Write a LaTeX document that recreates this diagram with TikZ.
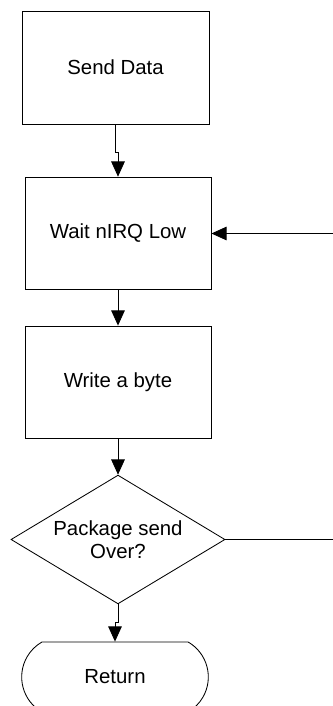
\documentclass[tikz,border=0pt]{standalone}
\usepackage{fontspec}
\setmainfont{Liberation Sans}
\usepackage{tikz}
\usetikzlibrary{shapes.geometric,shapes.misc,arrows.meta}

\begin{document}
\begin{tikzpicture}[
  >={Triangle[width=0.34cm,length=0.38cm]},
  line width=0.6pt,
  proc/.style={draw, rectangle, minimum width=4.65cm, minimum height=2.82cm, font=\fontsize{14.5}{16.5}\selectfont},
  decide/.style={draw, diamond, aspect=1.66, inner sep=0pt, minimum width=5.35cm, minimum height=3.22cm, align=center, font=\fontsize{14.5}{16.5}\selectfont},
  term/.style={draw, rounded rectangle, rounded rectangle arc length=120, minimum width=4.9cm, minimum height=1.75cm, font=\fontsize{14.5}{16.5}\selectfont}
]

\useasboundingbox (0,0) rectangle (8.3,-17.65);

\node[proc, minimum width=4.675cm, minimum height=2.825cm] (send) at (2.8875,-1.6875) {Send Data};

\node[proc] (wait) at (2.95,-5.8375) {Wait nIRQ Low};

\node[proc, minimum height=2.8cm] (byte) at (2.95,-9.55) {Write a byte};

\node[decide] (over) at (2.95,-13.4875) {Package send\\Over?};

\node[term] (ret) at (2.875,-16.925) {Return};

\coordinate (loop) at (8.6,-13.4875);


\draw[->] (send.south) -- ++(0,-0.7) -| (wait.north);
\draw[->] (wait) -- (byte);
\draw[->] (byte) -- (over);
\draw[->] (over.south) -- ++(0,-0.45) -| (ret.north);
\draw[->] (over.east) -- (loop) |- (wait.east);


\end{tikzpicture}
\end{document}
